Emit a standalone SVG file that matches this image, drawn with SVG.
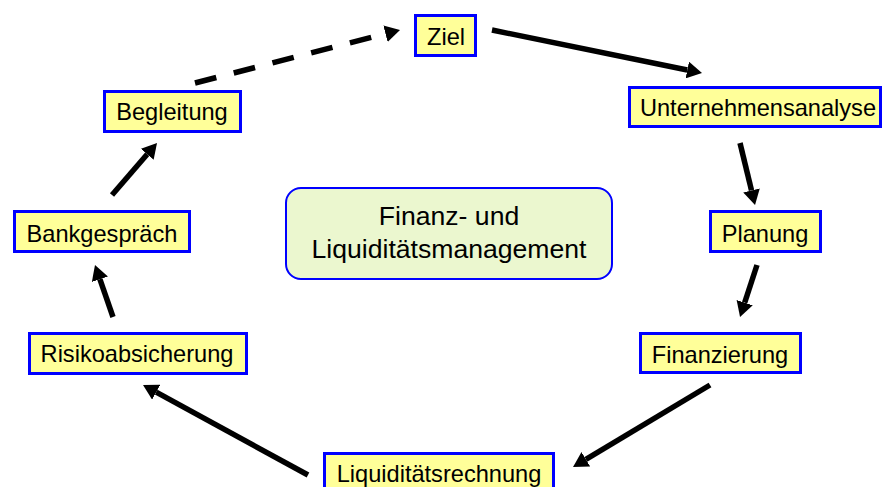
<svg xmlns="http://www.w3.org/2000/svg" width="883" height="487" viewBox="0 0 883 487">
<style>
.box{fill:#ffff99;stroke:#0000ff;stroke-width:3}
.center{fill:#ebf7cf;stroke:#0000ff;stroke-width:2}
text{font-family:"Liberation Sans",Arial,sans-serif;font-size:23.6px;fill:#000;text-anchor:middle}
.big{font-size:26.6px}
.arr{stroke:#000;stroke-width:5.5;fill:none;marker-end:url(#ah)}
.dash{stroke-dasharray:22 18}
</style>
<defs>
<marker id="ah" markerUnits="userSpaceOnUse" markerWidth="16" markerHeight="17" refX="0" refY="8.5" orient="auto">
<path d="M0,0 L15,8.5 L0,17 z" fill="#000"/>
</marker>
</defs>
<rect width="883" height="487" fill="#fff"/>
<g id="connectors">
<line class="arr" x1="492" y1="30" x2="687.3" y2="70"/>
<line class="arr" x1="740" y1="143" x2="751.5" y2="190.4"/>
<line class="arr" x1="757" y1="265" x2="744.7" y2="302.7"/>
<line class="arr" x1="710" y1="385" x2="585.9" y2="459.3"/>
<line class="arr" x1="308" y1="475" x2="156.2" y2="392.2"/>
<line class="arr" x1="113" y1="317" x2="99.9" y2="279.2"/>
<line class="arr" x1="112" y1="195" x2="147.2" y2="154.3"/>
<line class="arr dash" x1="195" y1="83" x2="385.5" y2="33.7"/>
</g>
<g id="center">
<rect class="center" x="286" y="188" width="326" height="91" rx="15"/>
<text class="big" x="449" y="225">Finanz- und</text>
<text class="big" x="449" y="258">Liquiditätsmanagement</text>
</g>
<g id="ziel">
<rect class="box" x="415.5" y="15.5" width="60" height="40"/>
<text x="446" y="45">Ziel</text>
</g>
<g id="unternehmensanalyse">
<rect class="box" x="629.5" y="87.5" width="251" height="39"/>
<text x="758" y="116">Unternehmensanalyse</text>
</g>
<g id="planung">
<rect class="box" x="710.5" y="211.5" width="110" height="40"/>
<text x="765" y="242">Planung</text>
</g>
<g id="finanzierung">
<rect class="box" x="640.5" y="333.5" width="160" height="39"/>
<text x="720" y="363">Finanzierung</text>
</g>
<g id="liquiditaetsrechnung">
<rect class="box" x="324.5" y="453.5" width="229" height="40"/>
<text x="439" y="482">Liquiditätsrechnung</text>
</g>
<g id="risikoabsicherung">
<rect class="box" x="29.5" y="333.5" width="217" height="40"/>
<text x="137" y="362">Risikoabsicherung</text>
</g>
<g id="bankgespraech">
<rect class="box" x="14.5" y="211.5" width="175" height="40"/>
<text x="102" y="242">Bankgespräch</text>
</g>
<g id="begleitung">
<rect class="box" x="104.5" y="91.5" width="136" height="40"/>
<text x="172" y="120">Begleitung</text>
</g>
</svg>
